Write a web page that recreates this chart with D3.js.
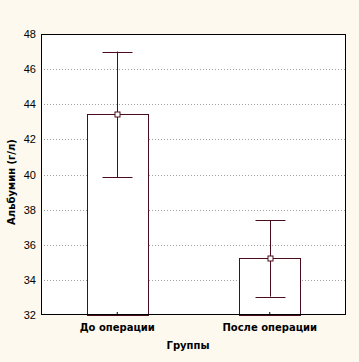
<!DOCTYPE html>
<html><head><meta charset="utf-8">
<script src="https://cdn.jsdelivr.net/npm/d3@7"></script>
<style>body{margin:0;background:#fdf9ee;} svg{display:block;}</style>
</head><body>
<script>
const categories = ["До операции", "После операции"];
const means = [43.45, 35.25];
const upper = [47.0, 37.4];
const lower = [39.85, 33.05];
const yTicks = [32, 34, 36, 38, 40, 42, 44, 46, 48];

const W = 359, H = 362;
const m = {left: 41, right: 13, top: 34, bottom: 47};
const svg = d3.select("body").append("svg").attr("width", W).attr("height", H);
svg.append("rect").attr("width", W).attr("height", H).attr("fill", "#fdf9ee");

const x = d3.scaleBand().domain(categories).range([m.left, W - m.right]).paddingInner(0.6).paddingOuter(0.3);
const y = d3.scaleLinear().domain([32, 48]).range([H - m.bottom, m.top]);

svg.append("rect").attr("x", m.left).attr("y", m.top)
  .attr("width", W - m.left - m.right).attr("height", H - m.top - m.bottom).attr("fill", "#fff");

// grid
svg.append("g").selectAll("line").data(yTicks.slice(1, -1)).join("line")
  .attr("x1", m.left).attr("x2", W - m.right)
  .attr("y1", d => Math.round(y(d)) + 0.5).attr("y2", d => Math.round(y(d)) + 0.5)
  .attr("stroke", "#a0a0a0").attr("stroke-dasharray", "1,2");

const col = "#4a0c1c";
// bars
svg.append("g").selectAll("rect").data(categories).join("rect")
  .attr("x", d => Math.round(x(d)) + 0.5)
  .attr("y", (d, i) => Math.round(y(means[i])) + 0.5)
  .attr("width", x.bandwidth())
  .attr("height", (d, i) => y(32) - Math.round(y(means[i])))
  .attr("fill", "#fff").attr("stroke", col);

// error bars
const cx = d => Math.round(x(d) + x.bandwidth() / 2) + 0.5;
const eb = svg.append("g");
eb.selectAll(".v").data(categories).join("line")
  .attr("x1", cx).attr("x2", cx)
  .attr("y1", (d, i) => y(upper[i])).attr("y2", (d, i) => y(lower[i]))
  .attr("stroke", col);
[upper, lower].forEach(arr => {
  eb.selectAll(null).data(categories).join("line")
    .attr("x1", d => cx(d) - 15).attr("x2", d => cx(d) + 15)
    .attr("y1", (d, i) => Math.round(y(arr[i])) + 0.5).attr("y2", (d, i) => Math.round(y(arr[i])) + 0.5)
    .attr("stroke", col);
});
eb.selectAll("rect").data(categories).join("rect")
  .attr("x", d => cx(d) - 2.5).attr("y", (d, i) => Math.round(y(means[i])) + 0.5 - 2.5)
  .attr("width", 5).attr("height", 5).attr("fill", "#fff").attr("stroke", col);

// frame
svg.append("rect").attr("x", m.left + 0.5).attr("y", m.top + 0.5)
  .attr("width", W - m.left - m.right - 1).attr("height", H - m.top - m.bottom - 1)
  .attr("fill", "none").attr("stroke", "#000");

// axes
const yAxis = d3.axisLeft(y).tickValues(yTicks).tickSize(0).tickPadding(5);
const gy = svg.append("g").attr("transform", `translate(${m.left},0)`).call(yAxis);
gy.select(".domain").remove();
gy.selectAll("text").attr("font-family", "Liberation Sans, Arial, sans-serif").attr("font-size", 11).attr("fill", "#000");

const xAxis = d3.axisBottom(x).tickSize(-3).tickPadding(9);
const gx = svg.append("g").attr("transform", `translate(0,${H - m.bottom})`).call(xAxis);
gx.select(".domain").remove();
gx.selectAll("line").attr("stroke", "#000");
gx.selectAll("text").attr("font-family", "DejaVu Sans, sans-serif").attr("font-weight", "bold").attr("font-size", 10).attr("fill", "#000");

svg.append("text").attr("x", 188).attr("y", 349).attr("text-anchor", "middle")
  .attr("font-family", "DejaVu Sans, sans-serif").attr("font-weight", "bold").attr("font-size", 10).text("Группы");
svg.append("text").attr("transform", "translate(15,182) rotate(-90)").attr("text-anchor", "middle")
  .attr("font-family", "DejaVu Sans, sans-serif").attr("font-weight", "bold").attr("font-size", 10).text("Альбумин (г/л)");
</script>
</body></html>
